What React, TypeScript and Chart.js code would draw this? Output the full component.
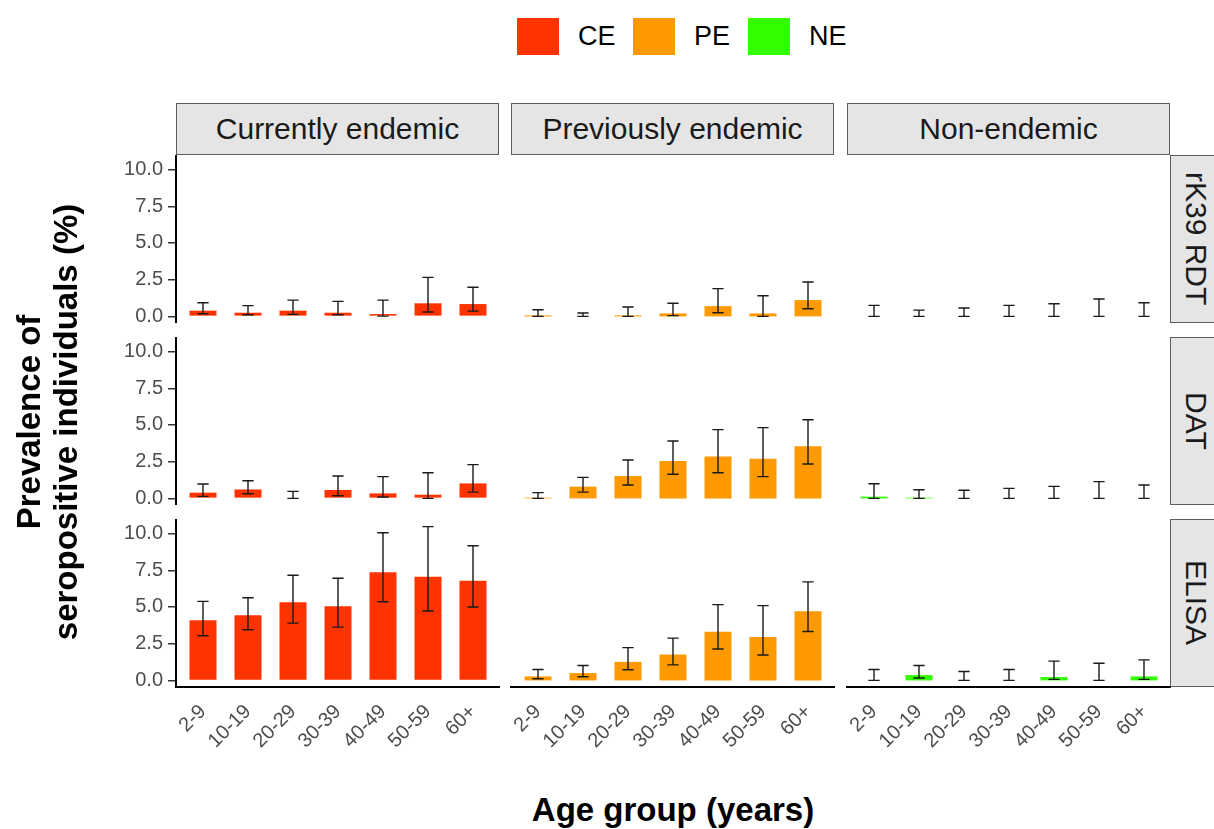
import React, { useEffect, useRef } from "react";
import { Chart, registerables } from "chart.js";

Chart.register(...registerables);

// ---------- data ----------
const ageGroups = ["2-9", "10-19", "20-29", "30-39", "40-49", "50-59", "60+"];
const regionNames = ["Currently endemic", "Previously endemic", "Non-endemic"];
const regionCodes = ["CE", "PE", "NE"];
const regionColors = ["#FF3300", "#FF9900", "#33FF00"];
const testNames = ["rK39 RDT", "DAT", "ELISA"];
const yTickValues = [0, 2.5, 5, 7.5, 10];

// rK39 RDT
const rk39CE = [0.39, 0.25, 0.39, 0.25, 0.16, 0.89, 0.84];
const rk39CELow = [0.18, 0.11, 0.14, 0.11, 0.02, 0.3, 0.36];
const rk39CEHigh = [0.93, 0.73, 1.11, 1.02, 1.11, 2.66, 1.98];
const rk39PE = [0.07, 0, 0.07, 0.2, 0.7, 0.2, 1.11];
const rk39PELow = [0, 0, 0, 0.05, 0.25, 0, 0.52];
const rk39PEHigh = [0.45, 0.23, 0.64, 0.89, 1.89, 1.41, 2.34];
const rk39NE = [0, 0, 0, 0, 0, 0, 0];
const rk39NELow = [0, 0, 0, 0, 0, 0, 0];
const rk39NEHigh = [0.75, 0.43, 0.57, 0.75, 0.86, 1.18, 0.93];

// DAT
const datCE = [0.39, 0.61, 0, 0.57, 0.34, 0.25, 1.02];
const datCELow = [0.14, 0.32, 0, 0.18, 0.09, 0, 0.43];
const datCEHigh = [0.98, 1.2, 0.48, 1.52, 1.48, 1.75, 2.3];
const datPE = [0.05, 0.8, 1.52, 2.55, 2.86, 2.7, 3.55];
const datPELow = [0, 0.43, 0.91, 1.64, 1.75, 1.48, 2.34];
const datPEHigh = [0.39, 1.43, 2.61, 3.91, 4.68, 4.82, 5.36];
const datNE = [0.12, 0.05, 0, 0, 0, 0, 0];
const datNELow = [0, 0, 0, 0, 0, 0, 0];
const datNEHigh = [1.0, 0.59, 0.55, 0.68, 0.82, 1.14, 0.91];

// ELISA
const elisaCE = [4.1, 4.44, 5.32, 5.05, 7.36, 7.05, 6.78];
const elisaCELow = [3.04, 3.45, 3.9, 3.63, 5.36, 4.73, 5.0];
const elisaCEHigh = [5.38, 5.63, 7.16, 6.96, 10.05, 10.47, 9.17];
const elisaPE = [0.27, 0.5, 1.26, 1.76, 3.31, 2.95, 4.71];
const elisaPELow = [0.11, 0.25, 0.72, 1.06, 2.14, 1.73, 3.33];
const elisaPEHigh = [0.74, 1.01, 2.23, 2.88, 5.16, 5.09, 6.71];
const elisaNE = [0, 0.36, 0, 0, 0.23, 0, 0.27];
const elisaNELow = [0, 0.16, 0, 0, 0.07, 0, 0.07];
const elisaNEHigh = [0.74, 1.01, 0.61, 0.74, 1.31, 1.17, 1.4];

const panelData = [
  [
    [rk39CE, rk39CELow, rk39CEHigh],
    [rk39PE, rk39PELow, rk39PEHigh],
    [rk39NE, rk39NELow, rk39NEHigh],
  ],
  [
    [datCE, datCELow, datCEHigh],
    [datPE, datPELow, datPEHigh],
    [datNE, datNELow, datNEHigh],
  ],
  [
    [elisaCE, elisaCELow, elisaCEHigh],
    [elisaPE, elisaPELow, elisaPEHigh],
    [elisaNE, elisaNELow, elisaNEHigh],
  ],
];

// ---------- layout ----------
const FONT = "'Liberation Sans', Arial, Helvetica, sans-serif";
const PANEL_X = [176, 511, 847];
const PANEL_Y = [155, 337, 519];
const PANEL_W = 324;
const PANEL_H = 168;
const Y_AXIS_W = 176;
const X_AXIS_H = 95;
const SIDE_PAD = 30;
const Y_MIN = -0.45;
const Y_MAX = 10.99;
const CAP_WIDTH = 0.25;

function Panel({ row, col }: { row: number; col: number }) {
  const ref = useRef<HTMLCanvasElement>(null);
  const isLeft = col === 0;
  const isBottom = row === 2;
  const ml = isLeft ? Y_AXIS_W : SIDE_PAD;
  const mb = isBottom ? X_AXIS_H : 0;
  const left = PANEL_X[col] - ml;
  const top = PANEL_Y[row];
  const w = PANEL_W + ml;
  const h = PANEL_H + mb;
  const [values, low, high] = panelData[row][col];

  useEffect(() => {
    const errorBars = {
      id: "errorBars",
      afterDatasetsDraw(chart: any) {
        const { ctx, scales } = chart;
        const xs = scales.x;
        const ys = scales.y;
        ctx.save();
        ctx.strokeStyle = "#1a1a1a";
        ctx.lineWidth = 1.4;
        ctx.beginPath();
        low.forEach((lo: number, i: number) => {
          const px = xs.getPixelForValue(i);
          const half = xs.getPixelForValue(i + CAP_WIDTH / 2) - px;
          const yl = ys.getPixelForValue(lo);
          const yh = ys.getPixelForValue(high[i]);
          ctx.moveTo(px, yl);
          ctx.lineTo(px, yh);
          ctx.moveTo(px - half, yl);
          ctx.lineTo(px + half, yl);
          ctx.moveTo(px - half, yh);
          ctx.lineTo(px + half, yh);
        });
        ctx.stroke();
        ctx.restore();
      },
    };

    const chart = new Chart(ref.current as HTMLCanvasElement, {
      type: "bar",
      data: {
        datasets: [
          {
            data: values.map((v: number, i: number) => ({ x: i, y: v })),
            backgroundColor: regionColors[col],
            borderWidth: 0,
            barPercentage: 0.6,
            categoryPercentage: 1,
          } as any,
        ],
      },
      options: {
        animation: false,
        responsive: false,
        maintainAspectRatio: false,
        layout: { padding: { left: isLeft ? 0 : ml, top: 0, right: 0, bottom: 0 } },
        plugins: { legend: { display: false }, tooltip: { enabled: false } },
        scales: {
          x: {
            type: "linear",
            min: -0.6,
            max: 6.6,
            display: isBottom,
            offset: false,
            afterBuildTicks: (s: any) => {
              s.ticks = ageGroups.map((_, i) => ({ value: i }));
            },
            afterFit: (s: any) => {
              s.height = isBottom ? X_AXIS_H : 0;
              s.paddingLeft = 0;
              s.paddingRight = 0;
            },
            ticks: {
              callback: (v: any) => ageGroups[Math.round(Number(v))],
              autoSkip: false,
              maxRotation: 45,
              minRotation: 45,
              color: "#4d4d4d",
              font: { family: FONT, size: 20 },
              padding: 9,
            },
            grid: { display: false, drawTicks: true, tickLength: 4 },
            border: { display: true, color: "#000000", width: 2 },
          },
          y: {
            type: "linear",
            min: Y_MIN,
            max: Y_MAX,
            display: isLeft,
            afterBuildTicks: (s: any) => {
              s.ticks = yTickValues.map((v) => ({ value: v }));
            },
            afterFit: (s: any) => {
              s.width = isLeft ? Y_AXIS_W : 0;
              s.paddingTop = 0;
              s.paddingBottom = 0;
            },
            ticks: {
              callback: (v: any) => Number(v).toFixed(1),
              color: "#4d4d4d",
              font: { family: FONT, size: 20 },
              padding: 5,
            },
            grid: {
              drawOnChartArea: false,
              drawTicks: true,
              tickLength: 8,
              color: "#333333",
              lineWidth: 1.5,
            },
            border: { display: true, color: "#000000", width: 2 },
          },
        },
      } as any,
      plugins: [errorBars],
    });
    return () => chart.destroy();
  }, []);

  return (
    <canvas
      ref={ref}
      width={w}
      height={h}
      style={{ position: "absolute", left, top, width: w, height: h }}
    />
  );
}

export default function App() {
  const stripBase: React.CSSProperties = {
    position: "absolute",
    boxSizing: "border-box",
    background: "#e5e5e5",
    border: "1.5px solid #5e5e5e",
    color: "#1a1a1a",
    fontFamily: FONT,
    fontSize: 30,
    display: "flex",
    alignItems: "center",
    justifyContent: "center",
  };
  const legendX = [517, 633, 748];
  return (
    <div
      style={{
        position: "absolute",
        left: 0,
        top: 0,
        width: 1214,
        height: 829,
        overflow: "hidden",
        background: "#ffffff",
        fontFamily: FONT,
      }}
    >
      {/* legend */}
      {regionCodes.map((code, i) => (
        <React.Fragment key={code}>
          <div
            style={{
              position: "absolute",
              left: legendX[i],
              top: 18,
              width: 42,
              height: 37,
              background: regionColors[i],
            }}
          />
          <div
            style={{
              position: "absolute",
              left: legendX[i] + 61,
              top: 18,
              height: 37,
              lineHeight: "37px",
              fontSize: 27,
              color: "#000",
            }}
          >
            {code}
          </div>
        </React.Fragment>
      ))}

      {/* column strips */}
      {regionNames.map((name, c) => (
        <div
          key={name}
          style={{ ...stripBase, left: PANEL_X[c], top: 103, width: PANEL_W - 1, height: 52 }}
        >
          {name}
        </div>
      ))}

      {/* row strips */}
      {testNames.map((name, r) => (
        <div
          key={name}
          style={{ ...stripBase, left: 1170, top: PANEL_Y[r], width: 52, height: PANEL_H }}
        >
          <span style={{ writingMode: "vertical-rl" as any }}>{name}</span>
        </div>
      ))}

      {/* panels */}
      {[0, 1, 2].map((r) =>
        [0, 1, 2].map((c) => <Panel key={`${r}-${c}`} row={r} col={c} />)
      )}

      {/* y axis title */}
      <div
        style={{
          position: "absolute",
          left: 48 - 300,
          top: 422 - 38,
          width: 600,
          height: 76,
          lineHeight: "37px",
          textAlign: "center",
          fontWeight: "bold",
          fontSize: 33,
          color: "#000",
          transform: "rotate(-90deg)",
          transformOrigin: "50% 50%",
        }}
      >
        Prevalence of
        <br />
        seropositive individuals (%)
      </div>

      {/* x axis title */}
      <div
        style={{
          position: "absolute",
          left: 673 - 300,
          top: 790,
          width: 600,
          textAlign: "center",
          fontWeight: "bold",
          fontSize: 33,
          lineHeight: "40px",
          color: "#000",
        }}
      >
        Age group (years)
      </div>
    </div>
  );
}
